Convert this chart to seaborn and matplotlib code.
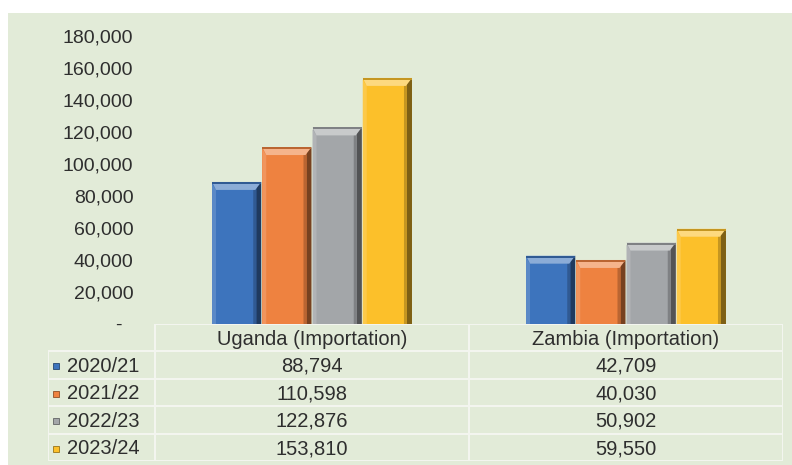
import numpy as np
import pandas as pd
import matplotlib
matplotlib.use("Agg")
import matplotlib.pyplot as plt
from matplotlib.patches import Rectangle, Polygon
import seaborn as sns

# Import volumes by season
countries = ["Uganda (Importation)", "Zambia (Importation)"]
seasons = ["2020/21", "2021/22", "2022/23", "2023/24"]
uganda = [88794, 110598, 122876, 153810]
zambia = [42709, 40030, 50902, 59550]
ytick_values = [0, 20000, 40000, 60000, 80000, 100000, 120000, 140000, 160000, 180000]
colors = ["#3d74bd", "#ee8240", "#a3a6a9", "#fcc02a"]

df = pd.DataFrame({
    "country": [c for c in countries for _ in seasons],
    "season": seasons * len(countries),
    "value": uganda + zambia,
})

sns.set_theme(style="white")
plt.rcParams["font.family"] = ["Liberation Sans", "DejaVu Sans"]

W, H = 792, 465
fig = plt.figure(figsize=(W / 100, H / 100), dpi=100, facecolor="white")

BG = "#e2ebd8"
LINE = "#f3f5ef"
TXT = "#2e2e2e"

# green panel behind the chart
fig.add_artist(Rectangle((8 / W, 0), 1 - 8 / W, 1 - 13 / H,
                         transform=fig.transFigure, facecolor=BG,
                         edgecolor="none", zorder=-5))

ax_left, ax_right = 155 / W, 783 / W
ax_bot, ax_top = (H - 324) / H, (H - 36) / H
ax = fig.add_axes([ax_left, ax_bot, ax_right - ax_left, ax_top - ax_bot])
ax.set_facecolor("none")

sns.barplot(data=df, x="country", y="value", hue="season", order=countries,
            hue_order=seasons, palette=colors, width=0.64, saturation=1,
            gap=0.02, legend=False, ax=ax, linewidth=0)

ax.set_xlim(-0.5, 1.5)
ax.set_ylim(0, 180000)
ax.set_xlabel("")
ax.set_ylabel("")
ax.set_xticks([])
ax.set_yticks(ytick_values)
ax.set_yticklabels(["-  " if v == 0 else f"{v:,}" for v in ytick_values],
                   fontsize=14, color=TXT)
ax.tick_params(axis="y", length=0, pad=15.5)
for s in ax.spines.values():
    s.set_visible(False)

# bevel shading on each bar: light slanted top cap, shaded sides
fig.canvas.draw()
px_h = ax.get_window_extent().height
px_w = ax.get_window_extent().width
dy = 180000 / px_h
dx = 2.0 / px_w
bars = [p for p in ax.patches if isinstance(p, Rectangle) and p.get_height() > 0]
for p in bars:
    x0, w, h = p.get_x(), p.get_width(), p.get_height()
    x1 = x0 + w
    base = np.array(matplotlib.colors.to_rgb(p.get_facecolor()))
    light = np.clip(base + (1 - base) * 0.4, 0, 1)
    dark = base * 0.5
    mid_dark = base * 0.78
    hi = np.clip(base + (1 - base) * 0.15, 0, 1)
    # right side shadow
    ax.add_patch(Polygon([(x1 - 5 * dx, 0), (x1, 0), (x1, h), (x1 - 5 * dx, h - 5 * dy)],
                         closed=True, facecolor=dark, edgecolor="none", zorder=3))
    ax.add_patch(Polygon([(x1 - 8 * dx, 0), (x1 - 5 * dx, 0), (x1 - 5 * dx, h - 5 * dy),
                          (x1 - 8 * dx, h - 8 * dy)],
                         closed=True, facecolor=mid_dark, edgecolor="none", zorder=3))
    # left side highlight
    ax.add_patch(Polygon([(x0, 0), (x0 + 4 * dx, 0), (x0 + 4 * dx, h - 8 * dy), (x0, h - 2 * dy)],
                         closed=True, facecolor=hi, edgecolor="none", zorder=3))
    # top cap
    ax.add_patch(Polygon([(x0, h), (x1, h), (x1 - 6 * dx, h - 8 * dy), (x0 + 4 * dx, h - 8 * dy)],
                         closed=True, facecolor=light, edgecolor="none", zorder=4))
    ax.add_patch(Rectangle((x0, h - 2 * dy), w, 2 * dy,
                           facecolor=mid_dark, edgecolor="none", zorder=4))

# data table under the bars
tab_left = 48 / W
tab_bot = (H - 461) / H
tax = fig.add_axes([tab_left, tab_bot, ax_right - tab_left, ax_bot - tab_bot])
tax.set_facecolor("none")
label_w = (ax_left - tab_left) / (ax_right - ax_left) * 2.0
tax.set_xlim(-0.5 - label_w, 1.5)
tax.set_ylim(len(seasons) + 1, 0)
tax.axis("off")

x_lab = -0.5 - label_w
# grid lines
tax.plot([-0.5, 1.5], [0, 0], color=LINE, lw=1.5, zorder=1)
for r in range(1, len(seasons) + 2):
    tax.plot([x_lab, 1.5], [r, r], color=LINE, lw=1.5, zorder=1)
for xv in [-0.5, 0.5, 1.5]:
    tax.plot([xv, xv], [0, len(seasons) + 1], color=LINE, lw=1.5, zorder=1)
tax.plot([x_lab, x_lab], [1, len(seasons) + 1], color=LINE, lw=1.5, zorder=1)

for i, c in enumerate(countries):
    tax.text(i, 0.55, c, ha="center", va="center", fontsize=14.5, color=TXT)

series = [uganda, zambia]
for r, s in enumerate(seasons):
    yc = r + 1.55
    tax.plot([x_lab + 0.025], [yc], marker="s", markersize=5,
             color=colors[r], markeredgecolor=np.array(matplotlib.colors.to_rgb(colors[r])) * 0.6,
             markeredgewidth=0.6, zorder=3)
    tax.text(x_lab + 0.062, yc, s, ha="left", va="center", fontsize=14.5, color=TXT)
    for i in range(len(countries)):
        tax.text(i, yc, f"{series[i][r]:,}", ha="center", va="center",
                 fontsize=14.5, color=TXT)

fig.savefig("out.png", dpi=100, facecolor="white")
